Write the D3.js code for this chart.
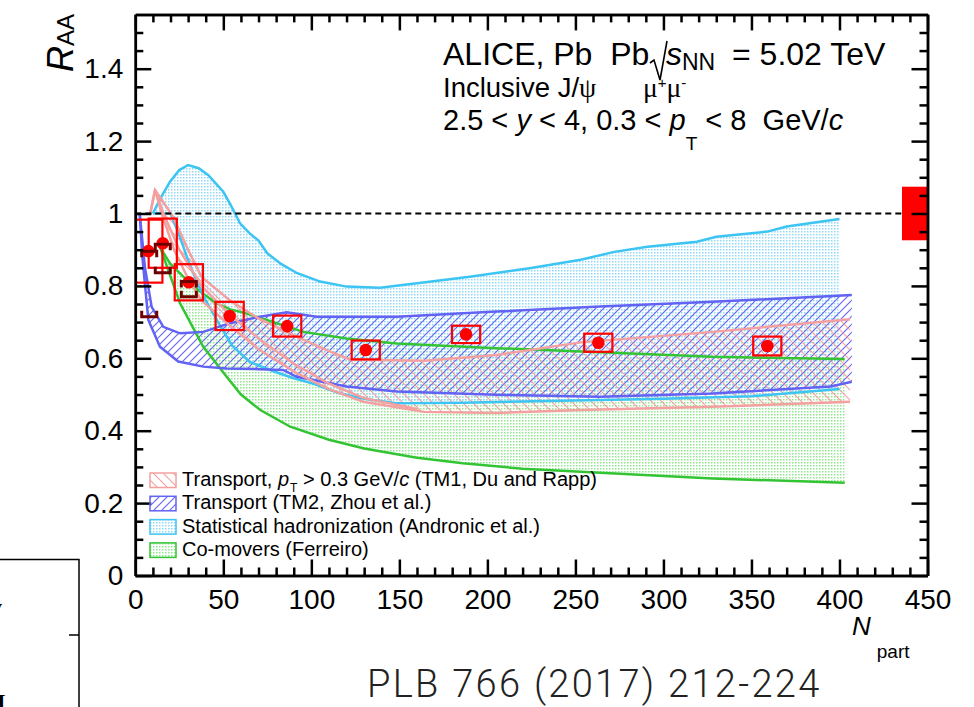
<!DOCTYPE html>
<meta charset="utf-8">
<style>
  body { margin: 0; background: #fff; }
  svg { font-family: "Liberation Sans", Arial, Helvetica, sans-serif; }
  .axis path, .axis line { stroke: #000; }
  .axis path { stroke-width: 2.5; }
  .axis line { stroke-width: 2.5; }
  .axis text { font-size: 28px; fill: #000; }
  .model { fill: none; stroke-width: 2.5; }
  .legend text { font-size: 20px; }
</style>
<body>
<svg width="974" height="707"></svg>
<script src="https://cdn.jsdelivr.net/npm/d3@7"></script>
<script>
// ALICE data points: Npart, R_AA and systematic (box) uncertainty
const npart = [7.4, 15.6, 30.4, 53.6, 86.3, 130.9, 187.9, 263, 359];
const raa = [0.896, 0.918, 0.810, 0.717, 0.689, 0.623, 0.666, 0.643, 0.634];
const sysErr = [0.087, 0.068, 0.050, 0.039, 0.029, 0.026, 0.024, 0.025, 0.026];

// dark red brackets on the three most peripheral points
const bracketNpart = [7.9, 15.6, 30.4];
const bracketHi = [0.896, 0.915, 0.812];
const bracketLo = [0.715, 0.836, 0.770];

const globalErr = 0.074;

// model bands, [Npart, R_AA]
const shmUpper = [[10, 1.0], [14, 1.04], [19.7, 1.088], [25, 1.12], [30, 1.134], [36, 1.125], [41.5, 1.106], [50, 1.06], [54, 1.025], [59.5, 0.973], [65, 0.945], [70, 0.925], [75, 0.89], [83, 0.86], [92, 0.835], [105, 0.812], [120, 0.798], [139, 0.795], [160, 0.807], [190, 0.825], [224, 0.849], [253, 0.872], [272, 0.894], [291, 0.908], [319, 0.922], [330, 0.936], [359, 0.950], [370, 0.964], [400, 0.985]];
const shmLower = [[10, 1.0], [20, 1.0], [25, 0.94], [30, 0.87], [35, 0.81], [40, 0.76], [47, 0.70], [55, 0.635], [65, 0.59], [78, 0.565], [90, 0.545], [101, 0.53], [115, 0.505], [130, 0.488], [148, 0.476], [186, 0.477], [264, 0.485], [300, 0.488], [350, 0.495], [400, 0.515]];

const tm2Upper = [[2.5, 1.0], [5.5, 0.85], [9.3, 0.742], [15.9, 0.687], [25.4, 0.669], [38.6, 0.673], [53.8, 0.697], [70.9, 0.715], [86, 0.727], [103, 0.715], [148.5, 0.715], [205, 0.729], [264, 0.743], [328, 0.756], [407, 0.775]];
const tm2Lower = [[2.5, 1.0], [4, 0.88], [7.4, 0.706], [14, 0.632], [24.4, 0.591], [38.6, 0.577], [51.9, 0.572], [70.9, 0.570], [84, 0.568], [91.7, 0.549], [120, 0.522], [148.5, 0.508], [205, 0.499], [264, 0.494], [328, 0.503], [395, 0.522], [407, 0.535]];

const tm1Upper = [[8.5, 1.0], [11.2, 1.065], [21.6, 0.99], [30, 0.9], [37.6, 0.825], [53.8, 0.76], [70, 0.71], [91.7, 0.66], [110, 0.62], [122, 0.597], [164, 0.593], [205, 0.609], [253, 0.644], [328, 0.673], [406, 0.708]];
const tm1Mid = [[11.2, 1.065], [16, 1.0], [25, 0.9], [37.6, 0.80], [53.8, 0.72], [70, 0.655], [90, 0.585], [110, 0.53], [130, 0.49], [160, 0.46]];
const tm1Lower = [[8.5, 1.0], [11.2, 1.065], [15, 1.0], [22, 0.9], [30, 0.82], [37.6, 0.76], [53.8, 0.69], [70, 0.625], [91.7, 0.559], [110, 0.515], [129.5, 0.48], [164, 0.452], [205, 0.449], [253, 0.457], [328, 0.466], [406, 0.480]];

const comUpper = [[14, 0.908], [19.7, 0.862], [33, 0.798], [46, 0.752], [54, 0.735], [63, 0.724], [75, 0.705], [95.5, 0.673], [120, 0.655], [148.5, 0.641], [205, 0.628], [264, 0.617], [328, 0.604], [403, 0.598]];
const comLower = [[14, 0.908], [25.4, 0.752], [38.6, 0.632], [51.9, 0.549], [60, 0.50], [71, 0.457], [88, 0.411], [110, 0.375], [130, 0.351], [160, 0.325], [186, 0.31], [220, 0.295], [264, 0.284], [328, 0.268], [403, 0.256]];

const xTicks = d3.range(0, 451, 50);
const yTicks = [0, 0.2, 0.4, 0.6, 0.8, 1, 1.2, 1.4];

const svg = d3.select("svg");
const frame = {left: 135.3, right: 927.5, top: 14.4, bottom: 575.5};

const x = d3.scaleLinear().domain([0, 450]).range([frame.left, frame.right]);
const y = d3.scaleLinear().domain([0, 1.55]).range([frame.bottom, frame.top]);

const cyan = "#3cc4f2", blue = "#6262f4", pink = "#f4a0a0", green = "#33c433";

const defs = svg.append("defs");
defs.append("clipPath").attr("id", "plot")
  .append("rect")
    .attr("x", frame.left).attr("y", frame.top)
    .attr("width", frame.right - frame.left).attr("height", frame.bottom - frame.top);

function dots(id, color) {
  const p = defs.append("pattern").attr("id", id)
      .attr("patternUnits", "userSpaceOnUse").attr("width", 3).attr("height", 3);
  p.append("rect").attr("width", 1.5).attr("height", 1.5).attr("fill", color);
}
dots("dotCyan", "#8fd8f8");
dots("dotGreen", "#8fe88f");

function hatch(id, color, size, dir) {
  const p = defs.append("pattern").attr("id", id)
      .attr("patternUnits", "userSpaceOnUse").attr("width", size).attr("height", size);
  const s = size;
  const d = dir > 0
    ? `M0,${s} L${s},0 M${-s / 2},${s / 2} L${s / 2},${-s / 2} M${s / 2},${1.5 * s} L${1.5 * s},${s / 2}`
    : `M0,0 L${s},${s} M${-s / 2},${s / 2} L${s / 2},${1.5 * s} M${s / 2},${-s / 2} L${1.5 * s},${s / 2}`;
  p.append("path").attr("d", d).attr("stroke", color).attr("stroke-width", 1.1);
}
hatch("hatchBlue", blue, 8, 1);
hatch("hatchPink", pink, 10, -1);

const line = d3.line().x(d => x(d[0])).y(d => y(d[1]));
const band = (up, lo) => line(up.concat(lo.slice().reverse())) + "Z";

const plot = svg.append("g").attr("clip-path", "url(#plot)");

// fills
plot.append("path").attr("d", band(comUpper, comLower)).attr("fill", "url(#dotGreen)");
plot.append("path").attr("d", band(shmUpper, shmLower)).attr("fill", "url(#dotCyan)");
plot.append("path").attr("d", band(tm2Upper, tm2Lower)).attr("fill", "url(#hatchBlue)");
plot.append("path").attr("d", band(tm1Upper, tm1Lower)).attr("fill", "url(#hatchPink)");

// band edges
[[comUpper, green], [comLower, green], [shmUpper, cyan], [shmLower, cyan],
 [tm2Upper, blue], [tm2Lower, blue], [tm1Upper, pink], [tm1Mid, pink], [tm1Lower, pink]]
  .forEach(([pts, c]) => {
    plot.append("path").attr("class", "model").attr("d", line(pts)).attr("stroke", c);
  });

// R_AA = 1 reference
plot.append("line")
    .attr("x1", x(0)).attr("x2", x(450)).attr("y1", y(1)).attr("y2", y(1))
    .attr("stroke", "#000").attr("stroke-width", 2).attr("stroke-dasharray", "6,4");

// data
const boxHalf = 8;
const pts = npart.map((n, i) => ({n, r: raa[i], s: sysErr[i]}));
plot.selectAll(".sys").data(pts).enter().append("rect")
    .attr("x", d => x(d.n - boxHalf))
    .attr("width", x(2 * boxHalf) - x(0))
    .attr("y", d => y(d.r + d.s))
    .attr("height", d => y(d.r - d.s) - y(d.r + d.s))
    .attr("fill", "none").attr("stroke", "#ff0000").attr("stroke-width", 2.2);
plot.selectAll(".pt").data(pts).enter().append("circle")
    .attr("cx", d => x(d.n)).attr("cy", d => y(d.r)).attr("r", 6.3)
    .attr("fill", "#ff0000");

const br = bracketNpart.map((n, i) => ({n, hi: bracketHi[i], lo: bracketLo[i]}));
plot.selectAll(".brHi").data(br).enter().append("path")
    .attr("d", d => `M${x(d.n) - 7.5},${y(d.hi) + 6} V${y(d.hi)} H${x(d.n) + 7.5} V${y(d.hi) + 6}`)
    .attr("fill", "none").attr("stroke", "#6e0000").attr("stroke-width", 3);
plot.selectAll(".brLo").data(br).enter().append("path")
    .attr("d", d => `M${x(d.n) - 7.5},${y(d.lo) - 6} V${y(d.lo)} H${x(d.n) + 7.5} V${y(d.lo) - 6}`)
    .attr("fill", "none").attr("stroke", "#6e0000").attr("stroke-width", 3);

// global uncertainty
plot.append("rect")
    .attr("x", x(435.5)).attr("width", x(450) - x(435.5))
    .attr("y", y(1 + globalErr)).attr("height", y(1 - globalErr) - y(1 + globalErr))
    .attr("fill", "#ff0000");

// axes
const xMinor = d3.range(0, 451, 10).filter(v => v % 50 !== 0);
const yMinor = d3.range(0, 31).map(i => i * 0.05).filter(v => Math.abs(v / 0.2 - Math.round(v / 0.2)) > 1e-6);
const fmt = d => String(+d.toFixed(2));

svg.append("g").attr("class", "axis").attr("transform", `translate(0,${frame.bottom})`)
    .call(d3.axisBottom(x).tickValues(xTicks).tickSizeInner(-16).tickSizeOuter(0).tickPadding(14).tickFormat(fmt));
svg.append("g").attr("class", "axis").attr("transform", `translate(0,${frame.bottom})`)
    .call(d3.axisBottom(x).tickValues(xMinor).tickSizeInner(-8).tickSizeOuter(0).tickFormat(""));
svg.append("g").attr("class", "axis").attr("transform", `translate(0,${frame.top})`)
    .call(d3.axisTop(x).tickValues(xTicks).tickSizeInner(-16).tickSizeOuter(0).tickFormat(""));
svg.append("g").attr("class", "axis").attr("transform", `translate(0,${frame.top})`)
    .call(d3.axisTop(x).tickValues(xMinor).tickSizeInner(-8).tickSizeOuter(0).tickFormat(""));

svg.append("g").attr("class", "axis").attr("transform", `translate(${frame.left},0)`)
    .call(d3.axisLeft(y).tickValues(yTicks).tickSizeInner(-16).tickSizeOuter(0).tickPadding(12).tickFormat(fmt));
svg.append("g").attr("class", "axis").attr("transform", `translate(${frame.left},0)`)
    .call(d3.axisLeft(y).tickValues(yMinor).tickSizeInner(-8).tickSizeOuter(0).tickFormat(""));
svg.append("g").attr("class", "axis").attr("transform", `translate(${frame.right},0)`)
    .call(d3.axisRight(y).tickValues(yTicks).tickSizeInner(-16).tickSizeOuter(0).tickFormat(""));
svg.append("g").attr("class", "axis").attr("transform", `translate(${frame.right},0)`)
    .call(d3.axisRight(y).tickValues(yMinor).tickSizeInner(-8).tickSizeOuter(0).tickFormat(""));
svg.selectAll(".axis .domain").attr("stroke-width", 3);

// axis titles
const yt = svg.append("text").attr("transform", "translate(73,72) rotate(-90)");
yt.append("tspan").attr("font-size", 36).attr("font-style", "italic").text("R");
yt.append("tspan").attr("font-size", 24).attr("dy", 1).text("AA");

const xt = svg.append("text").attr("x", 852).attr("y", 635);
xt.append("tspan").attr("font-size", 26).attr("font-style", "italic").text("N");
xt.append("tspan").attr("font-size", 19).attr("dx", 6).attr("dy", 23).text("part");

// header text
const t1 = svg.append("text").attr("x", 443).attr("y", 65).attr("font-size", 32);
t1.append("tspan").text("ALICE, Pb\u00a0\u00a0Pb");
t1.append("tspan").attr("x", 666).attr("font-style", "italic").text("s");
t1.append("tspan").attr("font-size", 23).attr("dy", 5).text("NN");
t1.append("tspan").attr("x", 732).attr("dy", -5).text("= 5.02 TeV");
svg.append("path")
    .attr("d", "M650,63 L654,60 L660,80 L667,41")
    .attr("fill", "none").attr("stroke", "#000").attr("stroke-width", 1.6);

const t2 = svg.append("text").attr("x", 443).attr("y", 97).attr("font-size", 27.5);
t2.append("tspan").text("Inclusive J/");
t2.append("tspan").attr("font-family", "Liberation Serif, serif").text("\u03c8");
t2.append("tspan").attr("x", 643).attr("font-family", "Liberation Serif, serif").text("\u03bc");
t2.append("tspan").attr("font-size", 15).attr("dy", -9).text("+");
t2.append("tspan").attr("font-family", "Liberation Serif, serif").attr("dy", 9).text("\u03bc");
t2.append("tspan").attr("font-size", 15).attr("dy", -9).text("-");

const t3 = svg.append("text").attr("x", 443).attr("y", 130).attr("font-size", 29);
t3.append("tspan").text("2.5 < ");
t3.append("tspan").attr("font-style", "italic").text("y");
t3.append("tspan").text(" < 4, 0.3 < ");
t3.append("tspan").attr("font-style", "italic").text("p");
t3.append("tspan").attr("font-size", 19).attr("dy", 20).text("T");
t3.append("tspan").attr("dy", -20).text(" < 8\u00a0\u00a0GeV/");
t3.append("tspan").attr("font-style", "italic").text("c");

// legend
const legend = [
  {fill: "url(#hatchPink)", stroke: pink},
  {fill: "url(#hatchBlue)", stroke: blue},
  {fill: "url(#dotCyan)", stroke: cyan},
  {fill: "url(#dotGreen)", stroke: green}
];
const lg = svg.append("g").attr("class", "legend");
legend.forEach((e, i) => {
  const by = 486 + i * 23.3;
  lg.append("rect").attr("x", 150).attr("y", by - 13).attr("width", 26).attr("height", 14.5)
      .attr("fill", e.fill).attr("stroke", e.stroke).attr("stroke-width", 1.5);
});
const l1 = lg.append("text").attr("x", 182).attr("y", 486);
l1.append("tspan").text("Transport, ");
l1.append("tspan").attr("font-style", "italic").text("p");
l1.append("tspan").attr("font-size", 12).attr("dx", 1).attr("dy", 6).text("T");
l1.append("tspan").attr("dy", -6).text(" > 0.3 GeV/");
l1.append("tspan").attr("font-style", "italic").text("c");
l1.append("tspan").text(" (TM1, Du and Rapp)");
lg.append("text").attr("x", 182).attr("y", 509.3).text("Transport (TM2, Zhou et al.)");
lg.append("text").attr("x", 182).attr("y", 532.6).text("Statistical hadronization (Andronic et al.)");
lg.append("text").attr("x", 182).attr("y", 555.9).text("Co-movers (Ferreiro)");

// reference line below plot
svg.append("text").attr("x", 367).attr("y", 697).attr("font-size", 38)
    .attr("font-weight", 300).attr("fill", "#222").attr("letter-spacing", 2.3)
    .attr("font-family", "Roboto, Lato, sans-serif")
    .text("PLB 766 (2017) 212-224");

// edge of the neighbouring panel
svg.append("path").attr("d", "M-2,559.5 H79 V710 M69,635 H79")
    .attr("fill", "none").attr("stroke", "#000").attr("stroke-width", 1.5);
svg.append("text").attr("x", -9).attr("y", 614).attr("font-size", 22)
    .attr("font-family", "Liberation Serif, serif").attr("font-weight", "bold").text("y");
svg.append("text").attr("x", -3).attr("y", 709).attr("font-size", 22)
    .attr("font-family", "Liberation Serif, serif").attr("font-weight", "bold").text("I");
</script>
</body>
